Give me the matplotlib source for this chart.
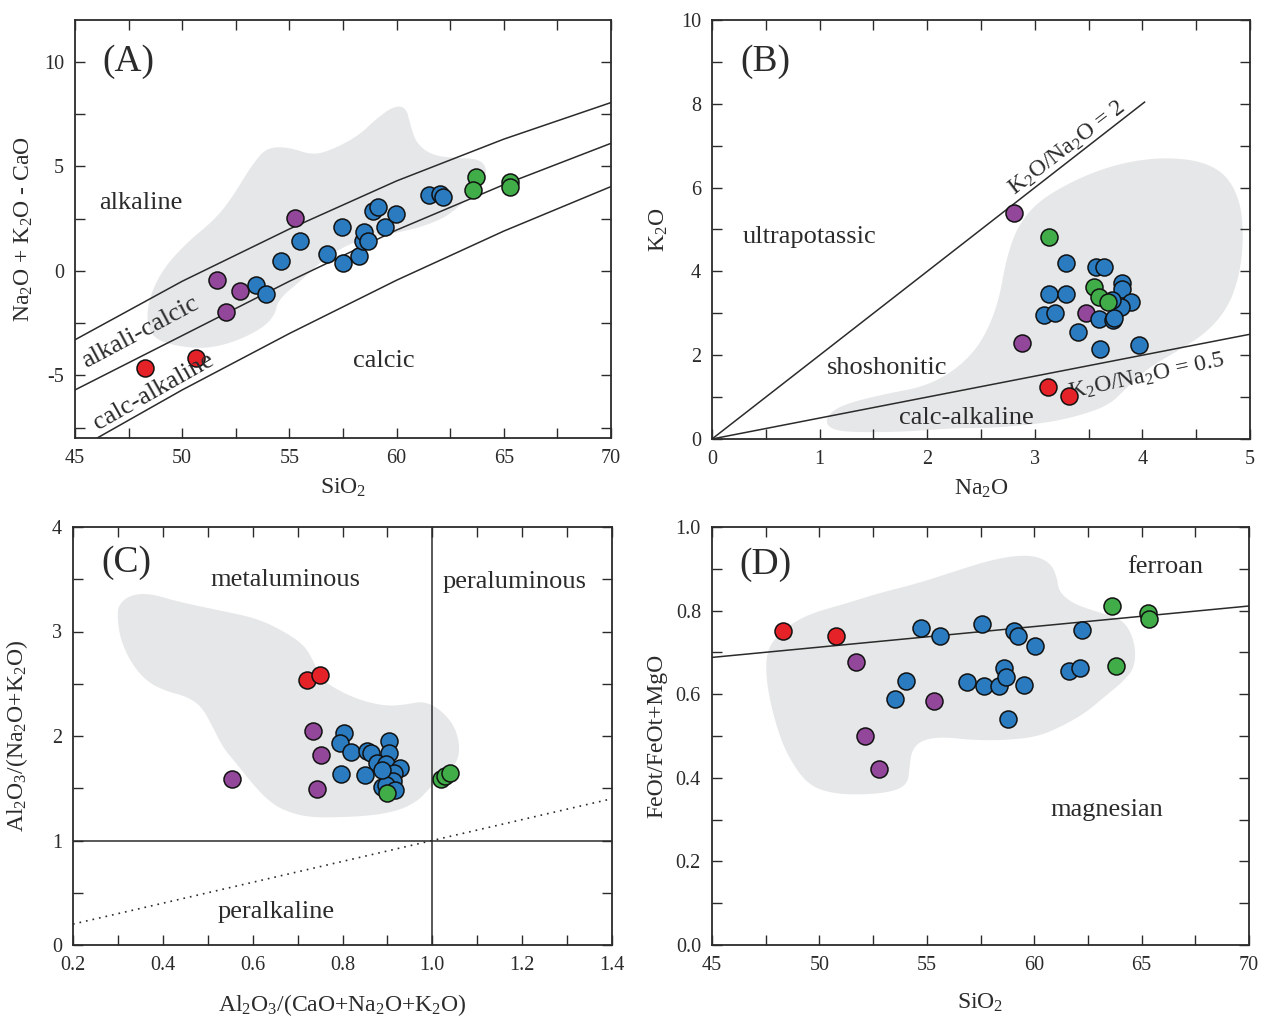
import numpy as np
import matplotlib
matplotlib.use('Agg')
import matplotlib.pyplot as plt
from matplotlib.ticker import MultipleLocator, FormatStrFormatter

plt.rcParams['font.family'] = ['Liberation Serif', 'DejaVu Serif']
plt.rcParams['mathtext.fontset'] = 'custom'
plt.rcParams['mathtext.rm'] = 'Liberation Serif'
plt.rcParams['mathtext.it'] = 'Liberation Serif:italic'
plt.rcParams['axes.unicode_minus'] = False

INK = '#2b2b2b'
GREY = '#e6e7e8'
RED, PURPLE, BLUE, GREEN = '#e52228', '#93479b', '#2a7bbf', '#40ad48'

# ---------------- panel A : MALI vs SiO2 ----------------
a_red_si = [48.26, 50.64]
a_red_y = [-4.64, -4.19]
a_pur_si = [51.61, 52.70, 52.03, 55.26]
a_pur_y = [-0.45, -0.96, -1.95, 2.53]
a_blue_si = [53.44, 53.91, 54.61, 55.49, 56.74, 57.47, 57.51, 58.26, 58.45,
             58.48, 58.68, 58.91, 59.15, 59.46, 59.97, 61.53, 62.02, 62.18]
a_blue_y = [-0.67, -1.12, 0.48, 1.41, 0.80, 2.08, 0.35, 0.73, 1.41,
            1.84, 1.44, 2.88, 3.07, 2.11, 2.72, 3.65, 3.68, 3.55]
a_grn_si = [63.70, 63.55, 65.29, 65.29]
a_grn_y = [4.47, 3.87, 4.24, 4.00]

# boundary curves
a_bnd_si = [45, 50, 55, 60, 65, 70]
a_bnd_alk = [-3.3, -0.5, 2.0, 4.3, 6.3, 8.05]
a_bnd_ac = [-5.7, -3.1, -0.5, 1.95, 4.12, 6.1]
a_bnd_ca = [-8.6, -5.7, -3.0, -0.45, 1.9, 4.03]

# grey field outline
a_fld_si = [48.35, 48.43, 49.09, 50.23, 51.37, 52.19, 53.33, 53.99, 54.97, 56.11,
            57.09, 58.23, 59.05, 59.87, 60.44, 60.65, 60.93, 61.67, 62.81, 63.79,
            64.20, 64.12, 63.62, 62.97, 62.15, 60.85, 59.22, 57.91, 56.60, 55.62,
            54.48, 54.31, 53.66, 52.35, 51.04, 49.74, 48.76]
a_fld_y = [-2.64, -1.36, 0.08, 1.36, 2.32, 3.28, 5.19, 5.91, 5.91, 5.52,
           5.84, 6.47, 7.27, 7.88, 7.83, 6.95, 6.08, 5.52, 5.39, 5.36,
           4.96, 4.40, 3.76, 3.12, 2.48, 2.00, 1.68, 1.36, 0.56, -0.40,
           -1.36, -2.16, -2.80, -3.44, -3.73, -3.60, -3.28]

# ---------------- panel B : K2O vs Na2O ----------------
b_red_na = [3.12, 3.32]
b_red_k = [1.23, 1.03]
b_pur_na = [2.81, 2.88, 3.48]
b_pur_k = [5.39, 2.29, 3.01]
b_blue_na = [3.29, 3.57, 3.64, 3.81, 3.81, 3.13, 3.29, 3.89, 3.80, 3.72,
             3.09, 3.19, 3.60, 3.73, 3.74, 3.40, 3.61, 3.97]
b_blue_k = [4.20, 4.10, 4.10, 3.73, 3.58, 3.46, 3.46, 3.28, 3.16, 3.32,
            2.96, 3.00, 2.86, 2.84, 2.89, 2.56, 2.15, 2.25]
b_grn_na = [3.13, 3.55, 3.60, 3.68]
b_grn_k = [4.81, 3.62, 3.40, 3.26]

b_r2_na = [0, 4.02]
b_r2_k = [0, 8.04]
b_r05_na = [0, 5]
b_r05_k = [0, 2.5]

b_fld_na = [1.05, 1.12, 1.31, 1.64, 1.97, 2.24, 2.44, 2.57, 2.67, 2.73,
            2.83, 3.00, 3.23, 3.56, 3.89, 4.22, 4.55, 4.78, 4.91, 4.94,
            4.91, 4.81, 4.61, 4.32, 4.05, 3.85, 3.69, 3.43, 3.16, 2.90,
            2.57, 2.24, 1.78, 1.31, 1.12]
b_fld_k = [0.41, 0.69, 0.89, 1.09, 1.25, 1.61, 2.09, 2.64, 3.36, 4.24,
           5.03, 5.59, 5.99, 6.39, 6.63, 6.72, 6.63, 6.31, 5.67, 4.87,
           4.00, 3.20, 2.56, 2.09, 1.69, 1.21, 0.81, 0.57, 0.41, 0.33,
           0.26, 0.26, 0.17, 0.16, 0.22]

# ---------------- panel C : A/NK vs A/CNK ----------------
c_red_x = [0.720, 0.751]
c_red_y = [2.536, 2.581]
c_pur_x = [0.735, 0.753, 0.553, 0.744]
c_pur_y = [2.051, 1.818, 1.585, 1.490]
c_blue_x = [0.804, 0.794, 0.820, 0.855, 0.864, 0.903, 0.903, 0.876, 0.896,
            0.928, 0.914, 0.796, 0.850, 0.913, 0.887, 0.896, 0.916, 0.889]
c_blue_y = [2.032, 1.936, 1.850, 1.859, 1.840, 1.955, 1.834, 1.739, 1.729,
            1.691, 1.649, 1.636, 1.627, 1.569, 1.515, 1.531, 1.480, 1.670]
c_grn_x = [0.899, 1.019, 1.029, 1.040]
c_grn_y = [1.457, 1.586, 1.617, 1.643]

c_eq_x = [0.2, 1.4]
c_eq_y = [0.2, 1.4]

c_fld_x = [0.301, 0.327, 0.371, 0.433, 0.521, 0.609, 0.670, 0.714, 0.736, 0.749,
           0.793, 0.846, 0.899, 0.943, 0.978, 1.013, 1.048, 1.061, 1.057, 1.031,
           0.995, 0.969, 0.925, 0.864, 0.793, 0.723, 0.670, 0.635, 0.600, 0.565,
           0.534, 0.512, 0.486, 0.451, 0.407, 0.363, 0.327, 0.305, 0.299]
c_fld_y = [3.254, 3.349, 3.365, 3.286, 3.206, 3.127, 3.000, 2.873, 2.714, 2.556,
           2.429, 2.333, 2.286, 2.302, 2.333, 2.270, 2.111, 1.921, 1.762, 1.635,
           1.508, 1.381, 1.286, 1.238, 1.222, 1.222, 1.286, 1.381, 1.540, 1.730,
           1.889, 2.079, 2.286, 2.381, 2.429, 2.524, 2.714, 2.937, 3.127]

# ---------------- panel D : Fe-number vs SiO2 ----------------
d_red_si = [48.31, 50.75]
d_red_y = [0.751, 0.740]
d_pur_si = [51.70, 55.32, 52.12, 52.79]
d_pur_y = [0.678, 0.584, 0.501, 0.421]
d_blue_si = [54.73, 55.61, 57.55, 59.06, 59.26, 60.03, 62.23, 54.04, 53.54,
             56.87, 57.64, 58.34, 58.58, 58.69, 59.54, 58.77, 61.64, 62.15]
d_blue_y = [0.758, 0.740, 0.767, 0.751, 0.739, 0.716, 0.754, 0.632, 0.589,
            0.630, 0.620, 0.620, 0.662, 0.640, 0.622, 0.541, 0.656, 0.662]
d_grn_si = [63.60, 65.30, 65.34, 63.80]
d_grn_y = [0.811, 0.794, 0.779, 0.667]

d_bnd_si = [45, 70]
d_bnd_y = [0.688, 0.811]

d_fld_si = [47.50, 47.72, 48.46, 49.57, 51.24, 52.72, 54.57, 56.43, 57.91, 59.20,
            60.13, 60.78, 61.06, 61.15, 61.80, 62.91, 63.83, 64.39, 64.72, 64.67,
            64.20, 63.28, 62.35, 61.24, 60.13, 58.65, 57.17, 55.69, 54.76, 54.30,
            54.20, 54.11, 53.46, 51.98, 50.50, 49.39, 48.46, 47.91, 47.57]
d_fld_y = [0.681, 0.721, 0.761, 0.793, 0.817, 0.841, 0.865, 0.896, 0.920, 0.932,
           0.930, 0.912, 0.880, 0.845, 0.817, 0.797, 0.785, 0.761, 0.713, 0.665,
           0.633, 0.594, 0.554, 0.522, 0.498, 0.490, 0.490, 0.498, 0.490, 0.466,
           0.426, 0.386, 0.367, 0.359, 0.363, 0.386, 0.458, 0.538, 0.618]


def smooth_outline(xs, ys, n=3):
    # Chaikin corner cutting so the field looks hand drawn
    pts = np.column_stack([xs, ys]).astype(float)
    for _ in range(n):
        nxt = np.roll(pts, -1, axis=0)
        out = np.empty((2 * len(pts), 2))
        out[0::2] = 0.75 * pts + 0.25 * nxt
        out[1::2] = 0.25 * pts + 0.75 * nxt
        pts = out
    return pts[:, 0], pts[:, 1]


def dots(ax, x, y, c):
    ax.scatter(x, y, s=150, c=c, edgecolors='#111111', linewidths=1.1, zorder=5)


def style(ax, xmaj, xmin, ymaj, ymin):
    ax.xaxis.set_major_locator(MultipleLocator(xmaj))
    ax.xaxis.set_minor_locator(MultipleLocator(xmin))
    ax.yaxis.set_major_locator(MultipleLocator(ymaj))
    ax.yaxis.set_minor_locator(MultipleLocator(ymin))
    ax.tick_params(which='both', direction='in', top=True, right=True,
                   length=7, width=1.0, color=INK, labelsize=14.5,
                   labelcolor=INK, pad=8)
    for sp in ax.spines.values():
        sp.set_color(INK)
        sp.set_linewidth(1.3)


fig = plt.figure(figsize=(12.64, 10.17), dpi=100)
W, H = 1264.0, 1017.0


def make_ax(l, r, t, b):
    return fig.add_axes([l / W, 1 - b / H, (r - l) / W, (b - t) / H])


axA = make_ax(75, 611, 20, 438)
axB = make_ax(712, 1250, 20, 439)
axC = make_ax(73, 612, 527, 945)
axD = make_ax(712, 1249, 527, 945)

LW = 1.1
TFS = 19

# ---- A ----
fx, fy = smooth_outline(a_fld_si, a_fld_y)
axA.fill(fx, fy, color=GREY, lw=0, zorder=1)
for yy in (a_bnd_alk, a_bnd_ac, a_bnd_ca):
    axA.plot(a_bnd_si, yy, color=INK, lw=LW, zorder=2)
dots(axA, a_red_si, a_red_y, RED)
dots(axA, a_pur_si, a_pur_y, PURPLE)
dots(axA, a_blue_si, a_blue_y, BLUE)
dots(axA, a_grn_si, a_grn_y, GREEN)
axA.set_xlim(45, 70)
axA.set_ylim(-8, 12)
style(axA, 5, 2.5, 5, 2.5)
axA.set_xlabel('SiO$_2$', fontsize=17, color=INK, labelpad=6)
axA.set_ylabel('Na$_2$O + K$_2$O - CaO', fontsize=17, color=INK, labelpad=6)
axA.text(47.5, 10.0, '(A)', fontsize=27, color=INK, ha='center', va='center')
axA.text(48.05, 3.26, 'alkaline', fontsize=TFS, color=INK, ha='center', va='center')
axA.text(59.4, -4.32, 'calcic', fontsize=TFS, color=INK, ha='center', va='center')
axA.text(48.05, -2.96, 'alkali-calcic', fontsize=TFS, color=INK, ha='center',
         va='center', rotation=28, zorder=6)
axA.text(48.65, -5.76, 'calc-alkaline', fontsize=TFS, color=INK, ha='center',
         va='center', rotation=29.5, zorder=6)

# ---- B ----
fx, fy = smooth_outline(b_fld_na, b_fld_k)
axB.fill(fx, fy, color=GREY, lw=0, zorder=1)
axB.plot(b_r2_na, b_r2_k, color=INK, lw=LW, zorder=2)
axB.plot(b_r05_na, b_r05_k, color=INK, lw=LW, zorder=2)
dots(axB, b_red_na, b_red_k, RED)
dots(axB, b_pur_na, b_pur_k, PURPLE)
dots(axB, b_blue_na, b_blue_k, BLUE)
dots(axB, b_grn_na, b_grn_k, GREEN)
axB.set_xlim(0, 5)
axB.set_ylim(0, 10)
style(axB, 1, 0.5, 2, 1)
axB.set_xlabel('Na$_2$O', fontsize=17, color=INK, labelpad=6)
axB.set_ylabel('K$_2$O', fontsize=17, color=INK, labelpad=8)
axB.text(0.5, 9.0, '(B)', fontsize=27, color=INK, ha='center', va='center')
axB.text(0.91, 4.83, 'ultrapotassic', fontsize=TFS, color=INK, ha='center', va='center')
axB.text(1.63, 1.70, 'shoshonitic', fontsize=TFS, color=INK, ha='center', va='center')
axB.text(2.36, 0.50, 'calc-alkaline', fontsize=TFS, color=INK, ha='center', va='center')
axB.text(3.30, 6.95, 'K$_2$O/Na$_2$O = 2', fontsize=17, color=INK, ha='center',
         va='center', rotation=37.5)
axB.text(4.04, 1.49, 'K$_2$O/Na$_2$O = 0.5', fontsize=17, color=INK, ha='center',
         va='center', rotation=12)

# ---- C ----
fx, fy = smooth_outline(c_fld_x, c_fld_y)
axC.fill(fx, fy, color=GREY, lw=0, zorder=1)
axC.axvline(1.0, color=INK, lw=LW, zorder=2)
axC.axhline(1.0, color=INK, lw=LW, zorder=2)
axC.plot(c_eq_x, c_eq_y, color=INK, lw=1.2, ls=(0, (1, 3)), zorder=2)
dots(axC, c_red_x, c_red_y, RED)
dots(axC, c_pur_x, c_pur_y, PURPLE)
dots(axC, c_blue_x, c_blue_y, BLUE)
dots(axC, c_grn_x, c_grn_y, GREEN)
axC.set_xlim(0.2, 1.4)
axC.set_ylim(0, 4)
style(axC, 0.2, 0.1, 1, 0.5)
axC.xaxis.set_major_formatter(FormatStrFormatter('%.1f'))
axC.set_xlabel('Al$_2$O$_3$/(CaO+Na$_2$O+K$_2$O)', fontsize=17, color=INK, labelpad=12)
axC.set_ylabel('Al$_2$O$_3$/(Na$_2$O+K$_2$O)', fontsize=17, color=INK, labelpad=16)
axC.text(0.318, 3.66, '(C)', fontsize=27, color=INK, ha='center', va='center')
axC.text(0.672, 3.49, 'metaluminous', fontsize=TFS, color=INK, ha='center', va='center')
axC.text(1.182, 3.47, 'peraluminous', fontsize=TFS, color=INK, ha='center', va='center')
axC.text(0.652, 0.32, 'peralkaline', fontsize=TFS, color=INK, ha='center', va='center')

# ---- D ----
fx, fy = smooth_outline(d_fld_si, d_fld_y)
axD.fill(fx, fy, color=GREY, lw=0, zorder=1)
axD.plot(d_bnd_si, d_bnd_y, color=INK, lw=LW, zorder=2)
dots(axD, d_red_si, d_red_y, RED)
dots(axD, d_pur_si, d_pur_y, PURPLE)
dots(axD, d_blue_si, d_blue_y, BLUE)
dots(axD, d_grn_si, d_grn_y, GREEN)
axD.set_xlim(45, 70)
axD.set_ylim(0, 1)
style(axD, 5, 2.5, 0.2, 0.1)
axD.yaxis.set_major_formatter(FormatStrFormatter('%.1f'))
axD.set_xlabel('SiO$_2$', fontsize=17, color=INK, labelpad=12)
axD.set_ylabel('FeOt/FeOt+MgO', fontsize=17, color=INK, labelpad=6)
axD.text(47.5, 0.91, '(D)', fontsize=27, color=INK, ha='center', va='center')
axD.text(66.1, 0.904, 'ferroan', fontsize=TFS, color=INK, ha='center', va='center')
axD.text(63.4, 0.323, 'magnesian', fontsize=TFS, color=INK, ha='center', va='center')

fig.savefig('out.png', dpi=100, facecolor='white')
